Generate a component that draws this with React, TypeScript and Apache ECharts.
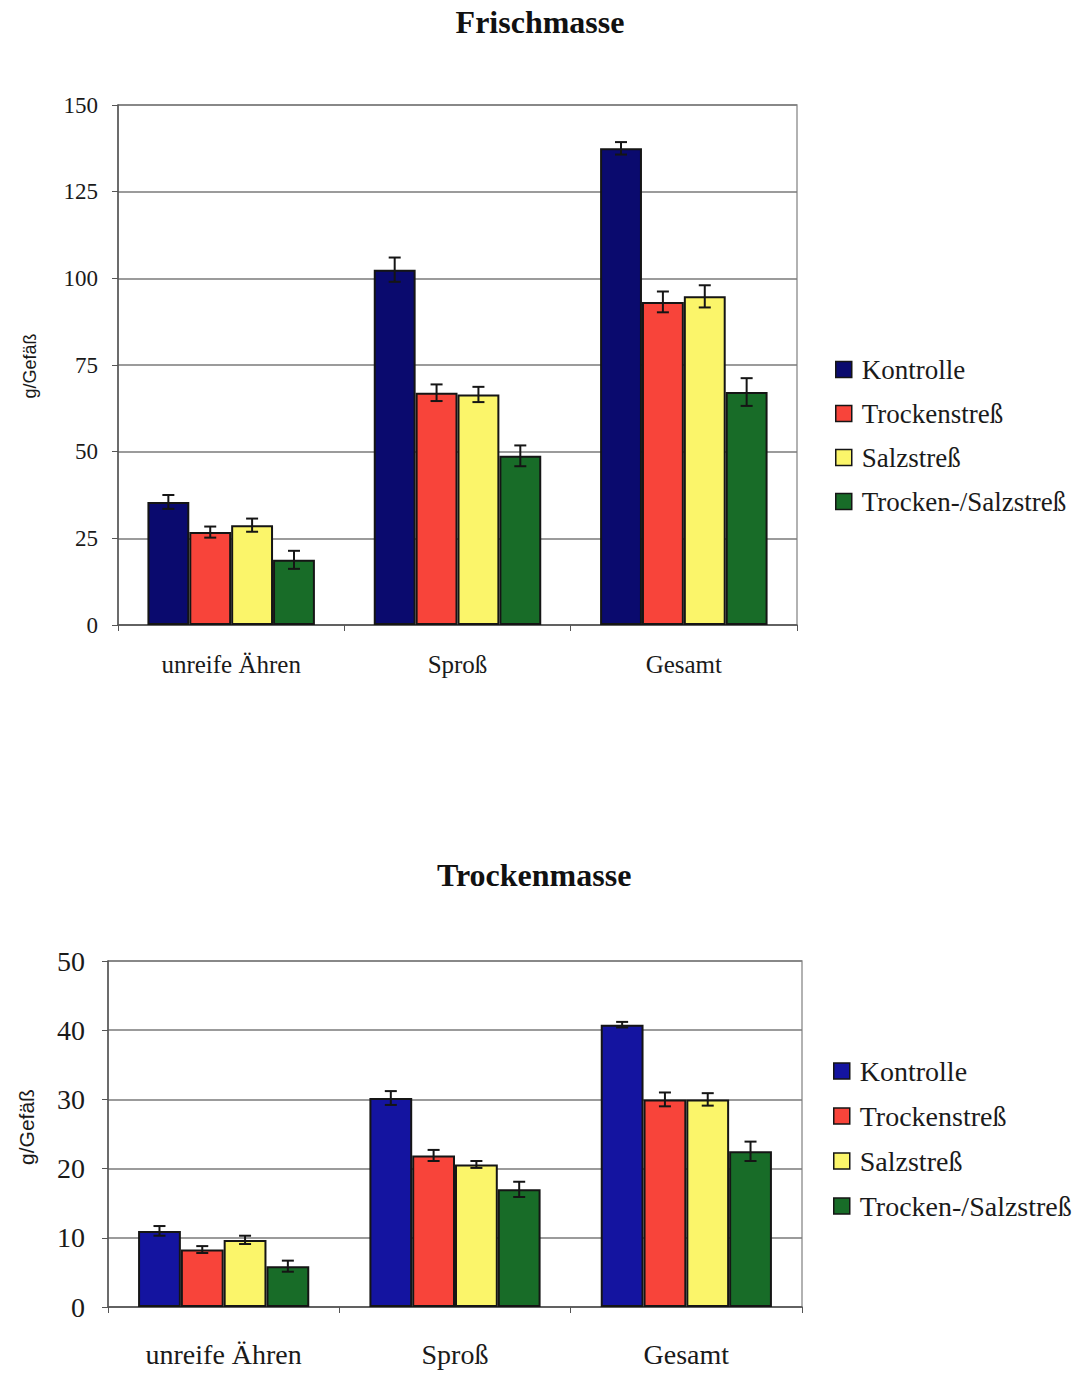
import React, { useEffect, useRef } from "react";
import * as echarts from "echarts";

const categories = ["unreife Ähren", "Sproß", "Gesamt"];
const seriesNames = ["Kontrolle", "Trockenstreß", "Salzstreß", "Trocken-/Salzstreß"];

const frischKontrolle = [35.5, 102.5, 137.5];
const frischTrocken = [26.8, 67.0, 93.2];
const frischSalz = [28.8, 66.5, 94.8];
const frischTS = [18.8, 48.8, 67.2];
const frischKontrolleErr = [2.0, 3.5, 1.8];
const frischTrockenErr = [1.6, 2.4, 3.0];
const frischSalzErr = [1.9, 2.2, 3.2];
const frischTSErr = [2.6, 3.0, 4.0];

const trockenKontrolle = [11.0, 30.2, 40.8];
const trockenTrocken = [8.3, 21.9, 30.0];
const trockenSalz = [9.7, 20.6, 30.0];
const trockenTS = [5.9, 17.0, 22.5];
const trockenKontrolleErr = [0.7, 1.0, 0.4];
const trockenTrockenErr = [0.5, 0.8, 1.0];
const trockenSalzErr = [0.6, 0.5, 0.9];
const trockenTSErr = [0.8, 1.1, 1.4];

const frischTicks = { min: 0, max: 150, interval: 25 };
const trockenTicks = { min: 0, max: 50, interval: 10 };

const topColors = ["#0a0a6e", "#f8443a", "#fbf56a", "#186c28"];
const bottomColors = ["#1414a0", "#f8443a", "#fbf56a", "#186c28"];

const GAP = 0.26;
const SERIF = "Liberation Serif";

function errSeries(grid: number, idx: number, vals: number[], errs: number[]) {
  return {
    type: "custom",
    name: "err" + grid + "_" + idx,
    xAxisIndex: grid,
    yAxisIndex: grid,
    z: 10,
    silent: true,
    encode: { x: 0, y: 1 },
    data: vals.map((v, i) => [i, v, errs[i]]),
    renderItem: (params: any, api: any) => {
      const c = api.value(0);
      const v = api.value(1);
      const e = api.value(2);
      const band = api.size([1, 0])[0];
      const barW = (band * (1 - GAP)) / 4;
      const cx = api.coord([c, v])[0] - 2 * barW + barW * (idx + 0.5);
      const yTop = api.coord([c, v + e])[1];
      const yBot = api.coord([c, v - e])[1];
      const cap = 6;
      const st = { stroke: "#151515", lineWidth: 2 };
      return {
        type: "group",
        children: [
          { type: "line", shape: { x1: cx, y1: yTop, x2: cx, y2: yBot }, style: st },
          { type: "line", shape: { x1: cx - cap, y1: yTop, x2: cx + cap, y2: yTop }, style: st },
          { type: "line", shape: { x1: cx - cap, y1: yBot, x2: cx + cap, y2: yBot }, style: st },
        ],
      };
    },
  };
}

function barSeries(grid: number, idx: number, vals: number[], colors: string[]) {
  return {
    type: "bar",
    name: seriesNames[idx],
    xAxisIndex: grid,
    yAxisIndex: grid,
    data: vals,
    barGap: "0%",
    barCategoryGap: (GAP * 100).toFixed(0) + "%",
    itemStyle: { color: colors[idx], borderColor: "#151515", borderWidth: 2 },
  };
}

function xAxis(grid: number, fontSize: number, margin: number) {
  return {
    type: "category",
    gridIndex: grid,
    data: categories,
    axisLine: { show: true, lineStyle: { color: "#555", width: 1.5 } },
    axisTick: { show: true, alignWithLabel: false, length: 6, lineStyle: { color: "#555" } },
    axisLabel: { fontFamily: SERIF, fontSize, color: "#1a1a1a", margin },
    splitLine: { show: false },
  };
}

function yAxis(grid: number, ticks: any, fontSize: number, margin: number) {
  return {
    type: "value",
    gridIndex: grid,
    min: ticks.min,
    max: ticks.max,
    interval: ticks.interval,
    axisLine: { show: true, lineStyle: { color: "#555", width: 1.5 } },
    axisTick: { show: true, length: 6, lineStyle: { color: "#555" } },
    axisLabel: { fontFamily: SERIF, fontSize, color: "#1a1a1a", margin },
    splitLine: { show: true, lineStyle: { color: "#7a7a7a", width: 1.5 } },
  };
}

function legend(left: number, top: number, fontSize: number, gap: number, colors: string[]) {
  return {
    orient: "vertical",
    left,
    top,
    itemWidth: 16,
    itemHeight: 16,
    itemGap: gap,
    icon: "rect",
    itemStyle: { borderColor: "#151515", borderWidth: 1.5 },
    textStyle: { fontFamily: SERIF, fontSize, color: "#1a1a1a", padding: [0, 0, 0, 5] },
    data: seriesNames.map((n, i) => ({ name: n, itemStyle: { color: colors[i] } })),
  };
}

export default function App() {
  const ref = useRef<HTMLDivElement>(null);
  useEffect(() => {
    document.body.style.margin = "0";
    const chart = echarts.init(ref.current!, null, { renderer: "svg" });
    chart.setOption({
      animation: false,
      backgroundColor: "#ffffff",
      title: [
        {
          text: "Frischmasse",
          left: "center",
          top: 1,
          textStyle: { fontFamily: SERIF, fontWeight: "bold", fontSize: 32, color: "#111" },
        },
        {
          text: "Trockenmasse",
          left: 432,
          top: 854,
          textStyle: { fontFamily: SERIF, fontWeight: "bold", fontSize: 32, color: "#111" },
        },
      ],
      legend: [
        legend(830, 351, 27, 17, topColors),
        legend(828, 1052, 28, 17, bottomColors),
      ],
      grid: [
        { left: 118, right: 283, top: 105, height: 520, show: true, borderColor: "#999", borderWidth: 1.5, backgroundColor: "transparent" },
        { left: 108, right: 278, top: 961, height: 346, show: true, borderColor: "#999", borderWidth: 1.5, backgroundColor: "transparent" },
      ],
      xAxis: [xAxis(0, 25, 27), xAxis(1, 28, 33)],
      yAxis: [yAxis(0, frischTicks, 23, 20), yAxis(1, trockenTicks, 28, 23)],
      graphic: [
        {
          type: "text",
          x: 30,
          y: 366,
          rotation: Math.PI / 2,
          style: { text: "g/Gefäß", fontFamily: "Liberation Sans", fontSize: 18, fill: "#1a1a1a", textAlign: "center", textVerticalAlign: "middle" },
        },
        {
          type: "text",
          x: 26,
          y: 1127,
          rotation: Math.PI / 2,
          style: { text: "g/Gefäß", fontFamily: "Liberation Sans", fontSize: 21, fill: "#1a1a1a", textAlign: "center", textVerticalAlign: "middle" },
        },
      ],
      series: [
        barSeries(0, 0, frischKontrolle, topColors),
        barSeries(0, 1, frischTrocken, topColors),
        barSeries(0, 2, frischSalz, topColors),
        barSeries(0, 3, frischTS, topColors),
        barSeries(1, 0, trockenKontrolle, bottomColors),
        barSeries(1, 1, trockenTrocken, bottomColors),
        barSeries(1, 2, trockenSalz, bottomColors),
        barSeries(1, 3, trockenTS, bottomColors),
        errSeries(0, 0, frischKontrolle, frischKontrolleErr),
        errSeries(0, 1, frischTrocken, frischTrockenErr),
        errSeries(0, 2, frischSalz, frischSalzErr),
        errSeries(0, 3, frischTS, frischTSErr),
        errSeries(1, 0, trockenKontrolle, trockenKontrolleErr),
        errSeries(1, 1, trockenTrocken, trockenTrockenErr),
        errSeries(1, 2, trockenSalz, trockenSalzErr),
        errSeries(1, 3, trockenTS, trockenTSErr),
      ],
    });
    return () => chart.dispose();
  }, []);
  return <div ref={ref} style={{ width: 1080, height: 1374, position: "absolute", left: 0, top: 0 }} />;
}
